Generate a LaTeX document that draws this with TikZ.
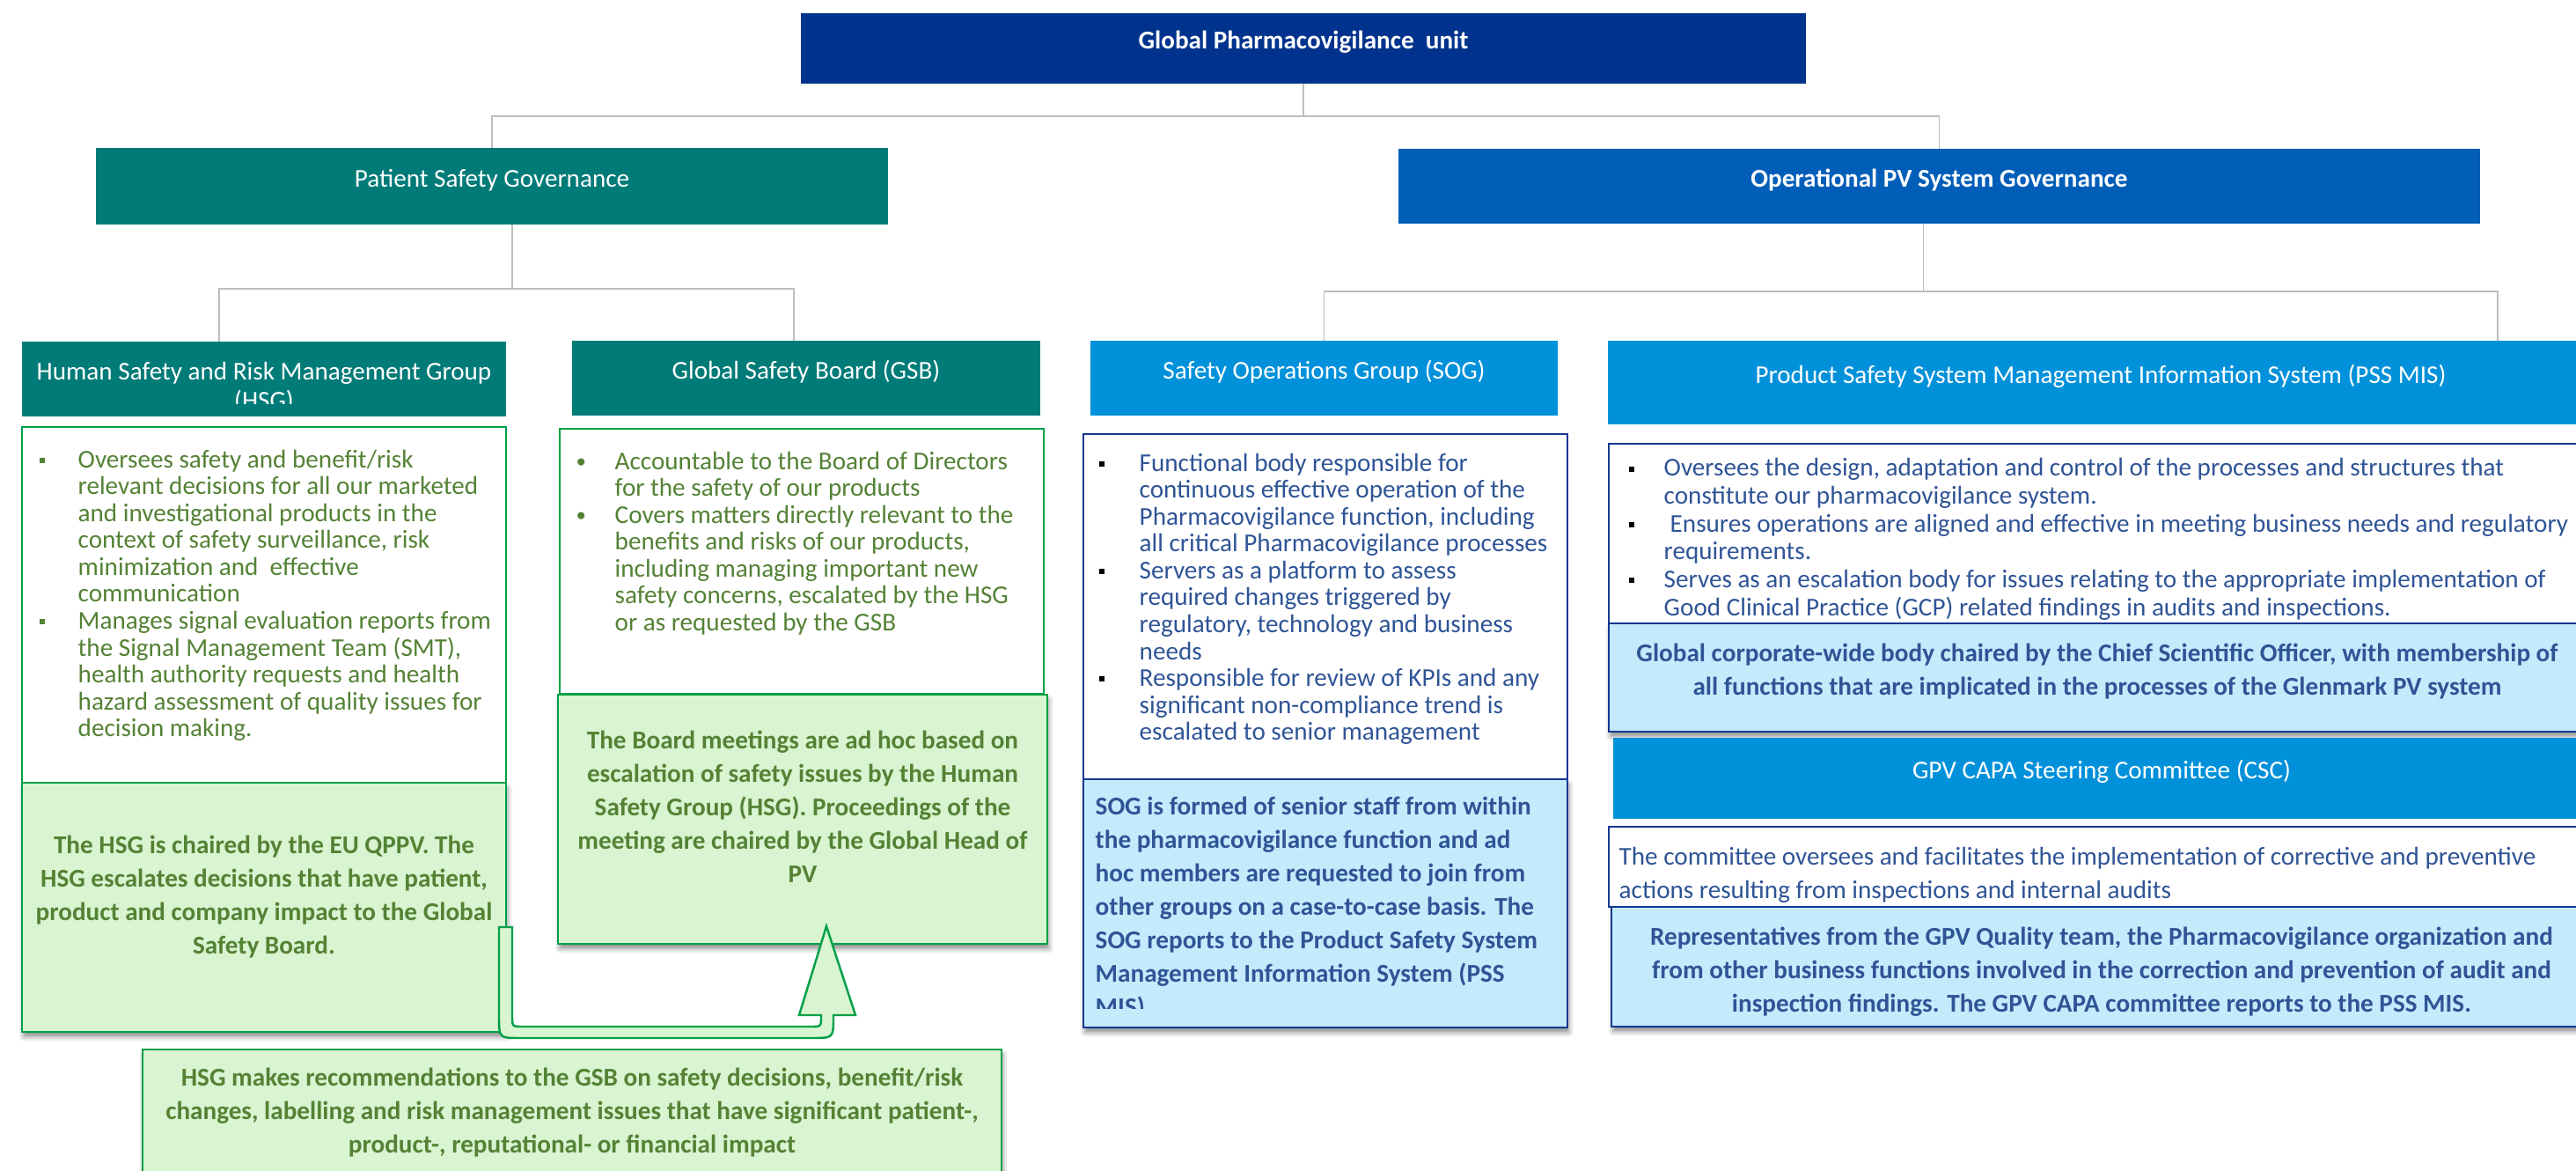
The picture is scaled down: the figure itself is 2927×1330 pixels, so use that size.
\documentclass[tikz,border=0pt]{standalone}
\usepackage{fontspec}
\setmainfont{Carlito}
\usetikzlibrary{shadows.blur}

\definecolor{pvnavy}{RGB}{0,51,141}
\definecolor{pvteal}{RGB}{0,123,120}
\definecolor{pvblue}{RGB}{0,94,184}
\definecolor{pvsky}{RGB}{0,145,218}
\definecolor{pvgreen}{RGB}{0,160,70}
\definecolor{pvleaf}{RGB}{84,130,53}
\definecolor{pvmint}{RGB}{216,244,208}
\definecolor{pvice}{RGB}{197,234,252}
\definecolor{pvink}{RGB}{47,84,150}
\definecolor{pvrule}{RGB}{20,55,145}
\definecolor{pvgrey}{RGB}{190,190,190}

\newcommand{\sqbullet}{\rule[1.5pt]{1.7pt}{1.7pt}}
\newcommand{\dotbullet}{\raisebox{0.4pt}{\fontsize{6.5}{6.5}\selectfont •}}

\tikzset{
  pvbox/.style={rectangle, anchor=north west, inner sep=0pt, outer sep=0pt},
  headbox/.style={pvbox, text=white, font=\fontsize{8.3}{9.4}\selectfont, text height=6pt, text depth=5.7pt},
  greenbody/.style={pvbox, draw=pvgreen, fill=white, line width=0.7pt},
  greennote/.style={pvbox, draw=pvgreen, fill=pvmint, line width=0.8pt,
    blur shadow={shadow xshift=0.5pt, shadow yshift=-1.6pt, shadow blur radius=1.6pt, shadow opacity=45}},
  bluebody/.style={pvbox, draw=pvrule, fill=white, line width=0.8pt},
  bluenote/.style={pvbox, draw=pvrule, fill=pvice, line width=0.8pt,
    blur shadow={shadow xshift=0.5pt, shadow yshift=-1.6pt, shadow blur radius=1.6pt, shadow opacity=45}},
  listtext/.style={anchor=north west, inner sep=0pt, font=\fontsize{8.3}{8.7}\selectfont},
  notetext/.style={anchor=north, inner sep=0pt, font=\bfseries\fontsize{8.3}{10.8}\selectfont},
  link/.style={draw=pvgrey, line width=0.5pt},
  uarrow/.style={draw=pvgreen, fill=pvmint, line width=0.7pt, line join=miter},
}

\begin{document}
\begin{tikzpicture}[x=0.1mm, y=-0.1mm]
  \useasboundingbox (0,0) rectangle (2927,1330);

  % Top unit
  \node[headbox, fill=pvnavy, font=\bfseries\fontsize{8.3}{9.4}\selectfont, minimum width=114.2mm, minimum height=8mm] (gpv) at (910,15) {Global Pharmacovigilance\ \ unit};
  % Governance level
  \node[headbox, fill=pvteal, minimum width=90mm, minimum height=8.7mm] (psg) at (109,168) {Patient Safety Governance};
  \node[headbox, fill=pvblue, font=\bfseries\fontsize{8.3}{9.4}\selectfont, minimum width=122.9mm, minimum height=8.5mm] (opv) at (1589,169) {Operational PV System Governance};

  % Connectors
  \draw[link] (gpv.south) -- ++(0,37) coordinate (topbus);
  \draw[link] (psg.north) |- (topbus) -| (opv.north);
  \draw[link] ([xshift=2.3mm]psg.south) -- ++(0,73) coordinate (psgbus);
  \draw[link] ([xshift=-1.8mm]opv.south) -- ++(0,77) coordinate (opvbus);

  % Group titles
  \node[pvbox, fill=pvteal, minimum width=55mm, minimum height=8.5mm] (hsg) at (25,388) {};
  \node[headbox, fill=pvteal, minimum width=53.2mm, minimum height=8.5mm] (gsb) at (650,387) {Global Safety Board (GSB)};
  \node[headbox, fill=pvsky, minimum width=53.1mm, minimum height=8.5mm] (sog) at (1239,387) {Safety Operations Group (SOG)};
  \node[headbox, fill=pvsky, minimum width=112mm, minimum height=9.5mm] (pss) at (1827,387) {Product Safety System Management Information System (PSS MIS)};

  \draw[link] ([xshift=-5.1mm]hsg.north) |- (psgbus) -| ([xshift=-1.4mm]gsb.north);
  \draw[link] (sog.north) |- (opvbus) -| ([xshift=45.1mm]pss.north);

  \begin{scope}
    \clip (hsg.north west) rectangle ([shift={(0,-14)}]hsg.south east);
    \node[anchor=north, inner sep=0pt, text=white, font=\fontsize{8.3}{9.4}\selectfont] (hsgname) at ([shift={(0,20)}]hsg.north)
      {\begin{tabular}{@{}c@{}}Human Safety and Risk Management Group\\(HSG)\end{tabular}};
  \end{scope}

  % Patient safety side
  \node[greenbody, minimum width=55mm, minimum height=40.4mm] (hsgbody) at (25,485) {};
  \node[greennote, minimum width=55mm, minimum height=28.3mm] (hsgnote) at (25,889) {};
  \node[greenbody, minimum width=55mm, minimum height=30.1mm] (gsbbody) at (636,487) {};
  \node[greennote, minimum width=55.6mm, minimum height=28.3mm] (gsbnote) at (634,789) {};
  \node[greennote, minimum width=97.6mm, minimum height=16mm] (recnote) at (162,1192) {};

  \node[listtext, text=pvleaf] (hsglist) at ([shift={(19,24)}]hsgbody.north west) {%
    \begin{tabular}{@{}p{4.4mm}@{}l@{}}
      \sqbullet & Oversees safety and benefit/risk\\
      & relevant decisions for all our marketed\\
      & and investigational products in the\\
      & context of safety surveillance, risk\\
      & minimization and \ effective\\
      & communication\\
      \sqbullet & Manages signal evaluation reports from\\
      & the Signal Management Team (SMT),\\
      & health authority requests and health\\
      & hazard assessment of quality issues for\\
      & decision making.
    \end{tabular}};
  \node[listtext, text=pvleaf] (gsblist) at ([shift={(18,24)}]gsbbody.north west) {%
    \begin{tabular}{@{}p{4.4mm}@{}l@{}}
      \dotbullet & Accountable to the Board of Directors\\
      & for the safety of our products\\
      \dotbullet & Covers matters directly relevant to the\\
      & benefits and risks of our products,\\
      & including managing important new\\
      & safety concerns, escalated by the HSG\\
      & or as requested by the GSB
    \end{tabular}};
  \node[notetext, text=pvleaf] (hsgnotetext) at ([shift={(0,53)}]hsgnote.north) {%
    \begin{tabular}{@{}c@{}}
      The HSG is chaired by the EU QPPV. The\\
      HSG escalates decisions that have patient,\\
      product and company impact to the Global\\
      Safety Board.
    \end{tabular}};
  \node[notetext, text=pvleaf] (gsbnotetext) at ([shift={(0,34)}]gsbnote.north) {%
    \begin{tabular}{@{}c@{}}
      The Board meetings are ad hoc based on\\
      escalation of safety issues by the Human\\
      Safety Group (HSG). Proceedings of the\\
      meeting are chaired by the Global Head of\\
      PV
    \end{tabular}};
  \node[notetext, text=pvleaf] (recnotetext) at ([shift={(0,14)}]recnote.north) {%
    \begin{tabular}{@{}c@{}}
      HSG makes recommendations to the GSB on safety decisions, benefit/risk\\
      changes, labelling and risk management issues that have significant patient-,\\
      product-, reputational- or financial impact
    \end{tabular}};

  % Escalation arrow HSG -> GSB
  \draw[uarrow] (567,1053) -- (582,1053) -- (582,1154) .. controls (582,1166) .. (594,1166)
    -- (921,1166) .. controls (933,1166) .. (933,1154) -- (933,1153) -- (908,1153) -- (939,1052)
    -- (972,1153) -- (947,1153) -- (947,1155) .. controls (947,1179) .. (923,1179)
    -- (591,1179) .. controls (567,1179) .. (567,1155) -- cycle;

  % Operational side
  \node[bluebody, minimum width=55mm, minimum height=39.2mm] (sogbody) at (1231,493) {};
  \node[bluenote, minimum width=55mm, minimum height=28.2mm] (sognote) at (1231,885) {};
  \node[bluebody, minimum width=112mm, minimum height=20.4mm] (pssbody) at (1828,504) {};
  \node[bluenote, minimum width=112mm, minimum height=12.3mm] (pssnote) at (1828,708) {};
  \node[headbox, fill=pvsky, minimum width=111mm, minimum height=9.2mm] (csc) at (1833,838) {GPV CAPA Steering Committee (CSC)};
  \node[bluebody, minimum width=112mm, minimum height=9.1mm] (cscbody) at (1828,939) {};
  \node[bluenote, minimum width=112mm, minimum height=13.6mm] (cscnote) at (1831,1030) {};

  \node[listtext, text=pvink] (soglist) at ([shift={(17,20)}]sogbody.north west) {%
    \begin{tabular}{@{}p{4.6mm}@{}l@{}}
      \textcolor{black}{\sqbullet} & Functional body responsible for\\
      & continuous effective operation of the\\
      & Pharmacovigilance function, including\\
      & all critical Pharmacovigilance processes\\
      \textcolor{black}{\sqbullet} & Servers as a platform to assess\\
      & required changes triggered by\\
      & regulatory, technology and business\\
      & needs\\
      \textcolor{black}{\sqbullet} & Responsible for review of KPIs and any\\
      & significant non-compliance trend is\\
      & escalated to senior management
    \end{tabular}};
  \begin{scope}
    \clip (sognote.north west) rectangle ([shift={(0,-22)}]sognote.south east);
    \node[notetext, anchor=north west, text=pvink] (sognotetext) at ([shift={(13,13)}]sognote.north west) {%
      \begin{tabular}{@{}l@{}}
        SOG is formed of senior staff from within\\
        the pharmacovigilance function and ad\\
        hoc members are requested to join from\\
        other groups on a case-to-case basis. The\\
        SOG reports to the Product Safety System\\
        Management Information System (PSS\\
        MIS).
      \end{tabular}};
  \end{scope}
  \node[listtext, text=pvink, font=\fontsize{8.3}{9.0}\selectfont] (psslist) at ([shift={(22,14)}]pssbody.north west) {%
    \begin{tabular}{@{}p{4mm}@{}l@{}}
      \textcolor{black}{\sqbullet} & Oversees the design, adaptation and control of the processes and structures that\\
      & constitute our pharmacovigilance system.\\
      \textcolor{black}{\sqbullet} & \hspace{0.7mm}Ensures operations are aligned and effective in meeting business needs and regulatory\\
      & requirements.\\
      \textcolor{black}{\sqbullet} & Serves as an escalation body for issues relating to the appropriate implementation of\\
      & Good Clinical Practice (GCP) related findings in audits and inspections.
    \end{tabular}};
  \node[notetext, text=pvink] (pssnotetext) at ([shift={(-5,16)}]pssnote.north) {%
    \begin{tabular}{@{}c@{}}
      Global corporate-wide body chaired by the Chief Scientific Officer, with membership of\\
      all functions that are implicated in the processes of the Glenmark PV system
    \end{tabular}};
  \node[notetext, anchor=north west, text=pvink, font=\fontsize{8.3}{10.8}\selectfont] (cscbodytext) at ([shift={(11,16)}]cscbody.north west) {%
    \begin{tabular}{@{}l@{}}
      The committee oversees and facilitates the implementation of corrective and preventive\\
      actions resulting from inspections and internal audits
    \end{tabular}};
  \node[notetext, text=pvink] (cscnotetext) at ([shift={(-3,16)}]cscnote.north) {%
    \begin{tabular}{@{}c@{}}
      Representatives from the GPV Quality team, the Pharmacovigilance organization and\\
      from other business functions involved in the correction and prevention of audit and\\
      inspection findings. The GPV CAPA committee reports to the PSS MIS.
    \end{tabular}};

\end{tikzpicture}
\end{document}
